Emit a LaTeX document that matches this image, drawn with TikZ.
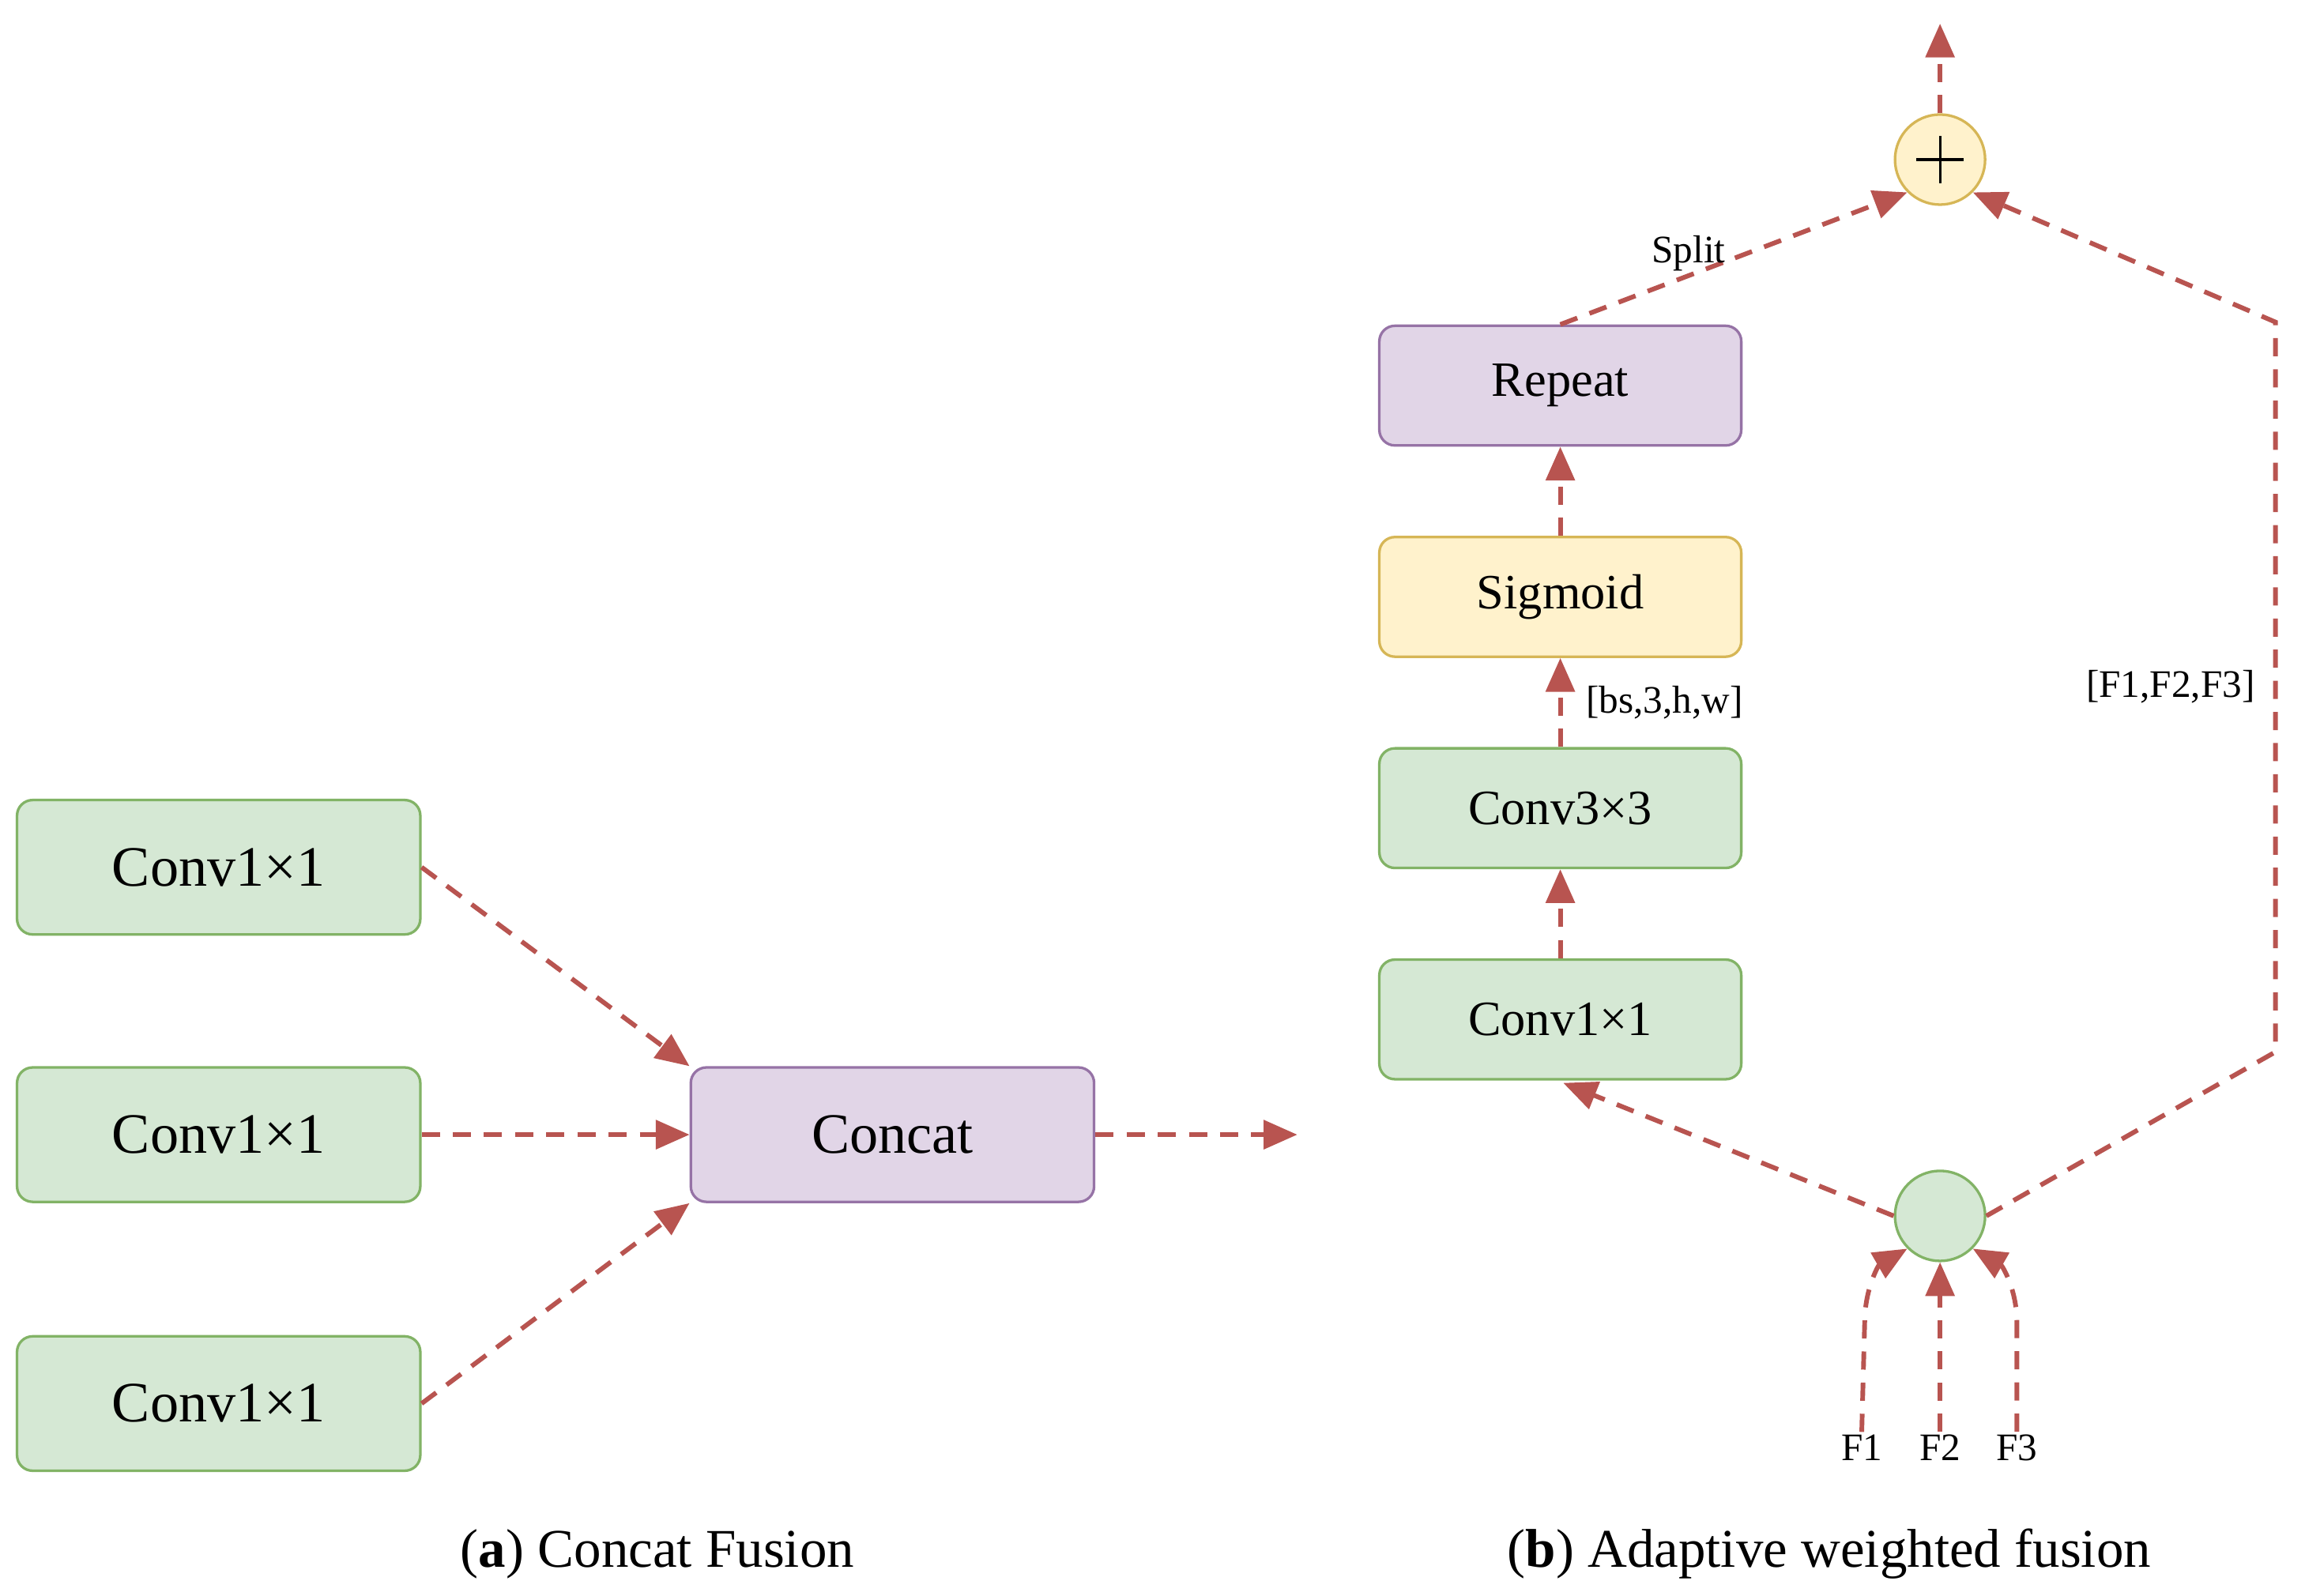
\documentclass[tikz,border=0pt]{standalone}
\usepackage{fontspec}
\setmainfont{Liberation Serif}
\usetikzlibrary{arrows.meta}
\definecolor{gf}{HTML}{D5E8D4}\definecolor{gd}{HTML}{82B366}
\definecolor{pf}{HTML}{E1D5E7}\definecolor{pd}{HTML}{9673A6}
\definecolor{yf}{HTML}{FFF2CC}\definecolor{yd}{HTML}{D6B656}
\definecolor{ar}{HTML}{B85450}
\begin{document}
\begin{tikzpicture}[x=0.02cm,y=-0.02cm,
 box/.style={draw,line width=1pt,rounded corners=6pt,inner sep=0pt},
 lbox/.style={box,minimum width=5.46cm,minimum height=1.82cm,font=\fontsize{22}{24}\selectfont},
 rbox/.style={box,minimum width=4.9cm,minimum height=1.62cm,font=\fontsize{19}{22}\selectfont},
 G/.style={fill=gf,draw=gd},P/.style={fill=pf,draw=pd},Y/.style={fill=yf,draw=yd},
 arr/.style={draw=ar,line width=1.8pt,dash pattern=on 7pt off 5pt,-{Triangle[length=13pt,width=11pt,fill=ar]}},
 lab/.style={font=\fontsize{15}{17}\selectfont,inner sep=1pt},
 captxt/.style={font=\fontsize{21}{24}\selectfont}]
\useasboundingbox (0,0) rectangle (1560,1080);
\node[lbox,G] (c1) at (148,587) {Conv1×1};
\node[lbox,G] (c2) at (148,768) {Conv1×1};
\node[lbox,G] (c3) at (148,950) {Conv1×1};
\node[lbox,P] (cc) at (604,768) {Concat};
\coordinate (out) at (878,768);
\draw[arr] (c1.east) -- (cc.north west);
\draw[arr] (c2.east) -- (cc.west);
\draw[arr] (c3.east) -- (cc.south west);
\draw[arr] (cc.east) -- (out);
\node[rbox,P] (rep) at (1056,261) {Repeat};
\node[rbox,Y] (sig) at (1056,404) {Sigmoid};
\node[rbox,G] (c33) at (1056,547) {Conv3×3};
\node[rbox,G] (c11) at (1056,690) {Conv1×1};
\node[circle,draw=yd,fill=yf,line width=1pt,minimum size=1.22cm,inner sep=0pt] (plus) at (1313,108) {};
\draw[line width=1pt] (1297,108)--(1329,108) (1313,92)--(1313,124);
\node[circle,draw=gd,fill=gf,line width=1pt,minimum size=1.22cm,inner sep=0pt] (gc) at (1313,823) {};
\coordinate (top) at (1313,16);
\draw[arr] (plus) -- (top);
\draw[arr] (c11) -- (c33);
\draw[arr] (c33) -- node[lab,right,xshift=8pt]{[bs,3,h,w]} (sig);
\draw[arr] (sig) -- (rep);
\draw[arr] (rep.north) -- node[lab,pos=0.37,above]{Split} (plus.south west);
\coordinate (r1) at (1540,712);\coordinate (r2) at (1540,218);
\draw[arr] (gc.east) -- (r1) -- node[lab,left,xshift=-6pt]{[F1,F2,F3]} (r2) -- (plus.south east);
\draw[arr] (gc.west) -- (1058,733);
\node[lab] (f1) at (1260,980) {F1};
\node[lab] (f2) at (1313,980) {F2};
\node[lab] (f3) at (1365,980) {F3};
\draw[arr] (f1.north) -- (1262,895) to[out=90,in=210] (gc.south west);
\draw[arr] (f2.north) -- (gc.south);
\draw[arr] (f3.north) -- (1365,895) to[out=90,in=-30] (gc.south east);
\node[captxt] at (445,1052) {(\textbf{a}) Concat Fusion};
\node[captxt] at (1238,1052) {(\textbf{b}) Adaptive weighted fusion};
\end{tikzpicture}
\end{document}
